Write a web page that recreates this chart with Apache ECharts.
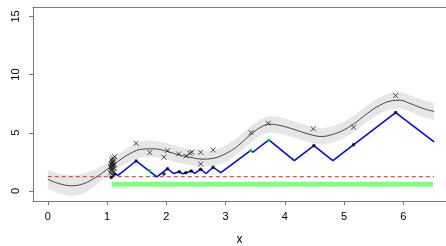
<!DOCTYPE html>
<html>
<head>
    <meta charset="utf-8" />
    <title>ECharts</title>
    <script src="https://cdn.jsdelivr.net/npm/echarts@6.0.0/dist/echarts.min.js"></script>
    <style>
        html, body { margin: 0; padding: 0; background: #fff; }
    </style>
</head>
<body>
    <div id="main" style="width: 446px;height: 246px;"></div>
    <script type="text/javascript">
        // GP mean curve and band
        var curveX = [0.00, 0.20, 0.40, 0.60, 0.80, 1.00, 1.20, 1.40, 1.60, 1.80, 2.00, 2.20, 2.40, 2.60, 2.80, 3.00, 3.20, 3.40, 3.60, 3.75, 3.90, 4.10, 4.30, 4.45, 4.62, 4.80, 5.00, 5.20, 5.40, 5.60, 5.80, 5.95, 6.10, 6.30, 6.52];
        var curveY = [1.00, 0.62, 0.45, 0.62, 1.15, 1.85, 2.60, 3.25, 3.60, 3.62, 3.42, 3.12, 2.90, 2.74, 2.82, 3.20, 3.85, 4.75, 5.50, 5.74, 5.65, 5.38, 5.05, 4.82, 4.68, 4.85, 5.25, 5.90, 6.70, 7.35, 7.75, 7.80, 7.55, 7.15, 6.83];
        var bandUpper = [1.80, 1.47, 1.33, 1.47, 1.87, 2.40, 3.15, 3.90, 4.30, 4.32, 4.12, 3.82, 3.58, 3.40, 3.50, 3.90, 4.55, 5.45, 6.20, 6.44, 6.35, 6.08, 5.75, 5.52, 5.38, 5.55, 5.95, 6.60, 7.40, 8.05, 8.45, 8.50, 8.25, 7.87, 7.55];
        var bandLower = [0.20, -0.23, -0.43, -0.23, 0.43, 1.30, 2.05, 2.60, 2.90, 2.92, 2.72, 2.42, 2.22, 2.08, 2.14, 2.50, 3.15, 4.05, 4.80, 5.04, 4.95, 4.68, 4.35, 4.12, 3.98, 4.15, 4.55, 5.20, 6.00, 6.65, 7.05, 7.10, 6.85, 6.43, 6.11];

        // observations (crosses)
        var obsX = [1.06, 1.07, 1.08, 1.09, 1.10, 1.11, 1.12, 1.06, 1.08, 1.10, 1.12, 1.07, 1.09, 1.11, 1.13, 1.08, 1.10, 1.07, 1.09, 1.08, 1.10, 1.09, 1.49, 1.72, 1.96, 2.02, 2.21, 2.33, 2.40, 2.43, 2.58, 2.58, 2.79, 3.43, 3.72, 4.48, 5.16, 5.87];
        var obsY = [1.55, 2.35, 1.85, 2.55, 2.05, 1.65, 2.25, 2.10, 2.70, 2.40, 1.95, 1.75, 2.15, 2.60, 2.95, 1.45, 2.85, 2.00, 2.45, 2.30, 2.20, 1.90, 4.10, 3.30, 2.90, 3.47, 3.18, 3.00, 3.24, 3.33, 3.33, 2.32, 3.53, 5.02, 5.82, 5.34, 5.48, 8.20];

        // lower bound zigzag
        var boundX = [1.07, 1.13, 1.19, 1.49, 1.84, 2.02, 2.12, 2.22, 2.27, 2.33, 2.36, 2.42, 2.48, 2.58, 2.67, 2.79, 2.92, 3.42, 3.46, 3.73, 4.16, 4.49, 4.81, 5.87, 6.52];
        var boundY = [1.15, 1.46, 1.36, 2.58, 1.21, 1.92, 1.50, 1.66, 1.48, 1.56, 1.50, 1.72, 1.52, 1.87, 1.50, 2.04, 1.58, 3.47, 3.33, 4.39, 2.61, 3.90, 2.61, 6.74, 4.22];

        var dotX = [1.07, 1.13, 1.49, 1.96, 2.02, 2.22, 2.33, 2.42, 2.58, 2.79, 4.49, 5.16, 5.87];
        var dotY = [1.15, 1.46, 2.58, 1.45, 1.92, 1.66, 1.56, 1.72, 1.87, 2.04, 3.90, 3.97, 6.74];
        var greenX = [1.72, 3.42, 3.73];
        var greenY = [1.74, 3.47, 4.39];

        var thresholdY = 1.23;
        var thresholdX = [0, 6.52];
        var regionY = 0.59;
        var regionX = [1.075, 6.5];

        var xTicks = [0, 1, 2, 3, 4, 5, 6];
        var yTicks = [0, 5, 10, 15];

        function pairs(xs, ys) {
            return xs.map(function (x, i) { return [x, ys[i]]; });
        }

        var myChart = echarts.init(document.getElementById('main'));

        var boxColor = '#777';
        var labelFont = { color: '#000', fontSize: 11, fontFamily: 'Liberation Sans, Arial, sans-serif' };

        var option = {
            animation: false,
            grid: { left: 33, right: 0, top: 7, bottom: 45, outerBoundsMode: 'none', containLabel: false },
            xAxis: [
                {
                    type: 'value', min: -0.25, max: 6.72,
                    name: 'x', nameLocation: 'middle', nameGap: 33,
                    nameTextStyle: { color: '#000', fontSize: 12, fontFamily: 'Liberation Sans, Arial, sans-serif' },
                    axisLine: { show: true, onZero: false, lineStyle: { color: boxColor, width: 1 } },
                    axisTick: { show: true, length: 4, customValues: xTicks, lineStyle: { color: boxColor } },
                    axisLabel: Object.assign({ customValues: xTicks, margin: 10 }, labelFont),
                    splitLine: { show: false }
                },
                {
                    type: 'value', min: -0.25, max: 6.72, position: 'top',
                    axisLine: { show: true, onZero: false, lineStyle: { color: boxColor, width: 1 } },
                    axisTick: { show: false }, axisLabel: { show: false }, splitLine: { show: false }
                }
            ],
            yAxis: {
                type: 'value', min: -0.86, max: 15.81,
                axisLine: { show: true, onZero: false, lineStyle: { color: boxColor, width: 1 } },
                axisTick: { show: true, length: 4, customValues: yTicks, lineStyle: { color: boxColor } },
                axisLabel: Object.assign({ customValues: yTicks, rotate: 90, margin: 12 }, labelFont),
                splitLine: { show: false }
            },
            series: [
                {
                    type: 'custom',
                    data: curveX.map(function (x, i) { return [x, bandLower[i], bandUpper[i]]; }),
                    encode: { x: 0, y: [1, 2] },
                    renderItem: function (params, api) {
                        if (params.dataIndex !== 0) return;
                        var pts = [];
                        for (var i = 0; i < curveX.length; i++) pts.push(api.coord([curveX[i], bandUpper[i]]));
                        for (var j = curveX.length - 1; j >= 0; j--) pts.push(api.coord([curveX[j], bandLower[j]]));
                        return { type: 'polygon', shape: { points: pts }, style: { fill: '#e6e6e6' } };
                    },
                    z: 1
                },
                {
                    type: 'line', data: pairs(curveX, curveY), smooth: 0.4, showSymbol: false,
                    lineStyle: { color: '#444', width: 1 }, z: 2
                },
                {
                    type: 'line', data: pairs(regionX, [regionY, regionY]), showSymbol: false,
                    lineStyle: { color: '#80ff80', width: 5, cap: 'butt' }, z: 2
                },
                {
                    type: 'line', data: pairs(thresholdX, [thresholdY, thresholdY]), showSymbol: false,
                    lineStyle: { color: '#ee4b4b', width: 1.2, type: [4, 3] }, z: 3
                },
                {
                    type: 'line', data: pairs(boundX, boundY), showSymbol: false,
                    lineStyle: { color: '#0000ff', width: 1.5 }, z: 4
                },
                {
                    type: 'scatter', data: pairs(obsX, obsY),
                    symbol: 'path://M0,0L10,10M10,0L0,10', symbolSize: 5,
                    itemStyle: { color: 'rgba(0,0,0,0)', borderColor: '#222', borderWidth: 1 }, z: 5
                },
                {
                    type: 'scatter', data: pairs(dotX, dotY), symbol: 'circle', symbolSize: 3.5,
                    itemStyle: { color: '#000' }, z: 6
                },
                {
                    type: 'scatter', data: pairs(greenX, greenY), symbol: 'circle', symbolSize: 3.5,
                    itemStyle: { color: '#00e000' }, z: 6
                }
            ]
        };

        myChart.setOption(option);
    </script>
</body>
</html>
